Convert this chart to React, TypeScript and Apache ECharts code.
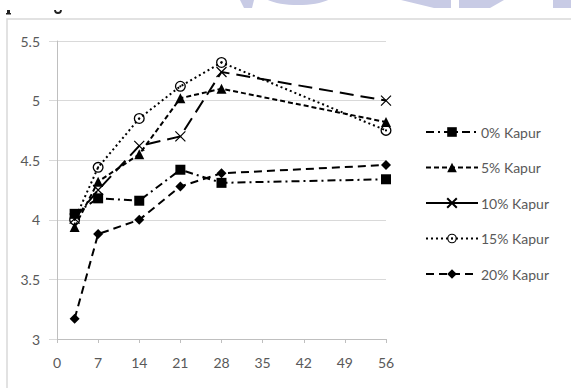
import React, { useEffect, useRef } from "react";
import * as echarts from "echarts";

// Days of curing and measured values per camphor ("kapur") content
const days = [3, 7, 14, 21, 28, 56];
const seriesNames = ["0% Kapur", "5% Kapur", "10% Kapur", "15% Kapur", "20% Kapur"];
const kapur0 = [4.05, 4.18, 4.16, 4.42, 4.31, 4.34];
const kapur5 = [3.94, 4.32, 4.55, 5.02, 5.1, 4.82];
const kapur10 = [4.01, 4.25, 4.62, 4.7, 5.24, 5.0];
const kapur15 = [4.0, 4.44, 4.85, 5.12, 5.32, 4.75];
const kapur20 = [3.17, 3.88, 4.0, 4.28, 4.39, 4.46];
const xTicks = [0, 7, 14, 21, 28, 35, 42, 49, 56];

const FONT = "Lato";
const LABEL = "#595959";

const CROSS = "path://M0,0L10,10M10,0L0,10";
const DOT_CIRCLE =
  "path://M5,0A5,5 0 1,1 5,10A5,5 0 1,1 5,0Z M5,1.2A3.8,3.8 0 1,0 5,8.8A3.8,3.8 0 1,0 5,1.2Z M5,4A1,1 0 1,1 5,6A1,1 0 1,1 5,4Z";

function pairs(vals: number[]) {
  return days.map((d, i) => [d, vals[i]]);
}

export default function App() {
  const ref = useRef<HTMLDivElement>(null);

  useEffect(() => {
    if (!ref.current) return;
    const chart = echarts.init(ref.current, undefined, { renderer: "svg" });

    const base = (name: string, vals: number[], dash: number[], symbol: string, size: number) => ({
      name,
      type: "line",
      data: pairs(vals),
      symbol,
      symbolSize: size,
      showSymbol: true,
      lineStyle: { color: "#000", width: 2, type: dash },
      itemStyle: { color: "#000", borderColor: "#000", borderWidth: symbol === CROSS ? 1.2 : 0 },
      z: 3,
    });

    chart.setOption({
      animation: false,
      backgroundColor: "#fff",
      textStyle: { fontFamily: FONT },
      grid: { left: 57, right: 185, top: 41, bottom: 49, containLabel: false },
      xAxis: {
        type: "value",
        min: 0,
        max: 56,
        interval: 7,
        axisLine: { show: true, lineStyle: { color: "#bfbfbf", width: 1 } },
        axisTick: { show: true, length: 4, lineStyle: { color: "#bfbfbf" } },
        splitLine: { show: false },
        axisLabel: {
          color: LABEL,
          fontSize: 14,
          fontFamily: FONT,
          margin: 16,
          formatter: (v: number) => (xTicks.includes(v) ? String(v) : ""),
        },
      },
      yAxis: {
        type: "value",
        min: 3,
        max: 5.5,
        interval: 0.5,
        axisLine: { show: true, lineStyle: { color: "#bfbfbf", width: 1 } },
        axisTick: { show: true, length: 8, lineStyle: { color: "#d9d9d9" } },
        splitLine: { show: true, lineStyle: { color: "#d9d9d9", width: 1 } },
        axisLabel: { color: LABEL, fontSize: 14, fontFamily: FONT, margin: 17 },
      },
      legend: {
        orient: "vertical",
        left: 420,
        top: 120,
        itemWidth: 52,
        itemHeight: 12,
        itemGap: 21.5,
        textStyle: { color: LABEL, fontSize: 14, fontFamily: FONT, padding: [0, 0, 0, -2] },
        data: [
          { name: seriesNames[0] },
          { name: seriesNames[1] },
          { name: seriesNames[2], lineStyle: { type: "solid" } },
          { name: seriesNames[3] },
          { name: seriesNames[4] },
        ],
      },
      graphic: [
        // chart frame
        {
          type: "rect",
          shape: { x: 7, y: 19, width: 700, height: 500 },
          style: { fill: "none", stroke: "#d9d9d9", lineWidth: 1.5 },
          silent: true,
        },
        // faint background shapes along the top edge
        { type: "polygon", shape: { points: [[240, 0], [254, 0], [252, 8], [244, 8]] }, style: { fill: "#c8cbe5" } },
        { type: "ellipse", shape: { cx: 298, cy: -6, rx: 36, ry: 11 }, style: { fill: "#c8cbe5" } },
        { type: "polygon", shape: { points: [[401, 0], [451, 0], [451, 8], [434, 8]] }, style: { fill: "#c8cbe5" } },
        { type: "polygon", shape: { points: [[459, 0], [504, 0], [490, 8], [459, 8]] }, style: { fill: "#c8cbe5" } },
        { type: "rect", shape: { x: 553, y: 0, width: 18, height: 8 }, style: { fill: "#c8cbe5" } },
        // clipped glyph fragments above the frame
        { type: "rect", shape: { x: 7, y: 10, width: 3, height: 4 }, style: { fill: "#222" } },
        { type: "rect", shape: { x: 6, y: 13, width: 5, height: 1.5 }, style: { fill: "#222" } },
        { type: "arc", shape: { cx: 58, cy: 10, r: 3, startAngle: 0, endAngle: Math.PI }, style: { stroke: "#222", lineWidth: 1.8, fill: "none" } },
      ],
      series: [
        base(seriesNames[0], kapur0, [8, 4, 2, 4], "rect", 10),
        base(seriesNames[1], kapur5, [5, 3], "triangle", 10),
        base(seriesNames[2], kapur10, [14, 7], CROSS, 10),
        base(seriesNames[3], kapur15, [2, 3], DOT_CIRCLE, 11),
        base(seriesNames[4], kapur20, [8, 5], "diamond", 10),
      ],
    });

    return () => chart.dispose();
  }, []);

  return (
    <div
      ref={ref}
      style={{ position: "fixed", left: 0, top: 0, width: 571, height: 388, background: "#fff" }}
    />
  );
}
